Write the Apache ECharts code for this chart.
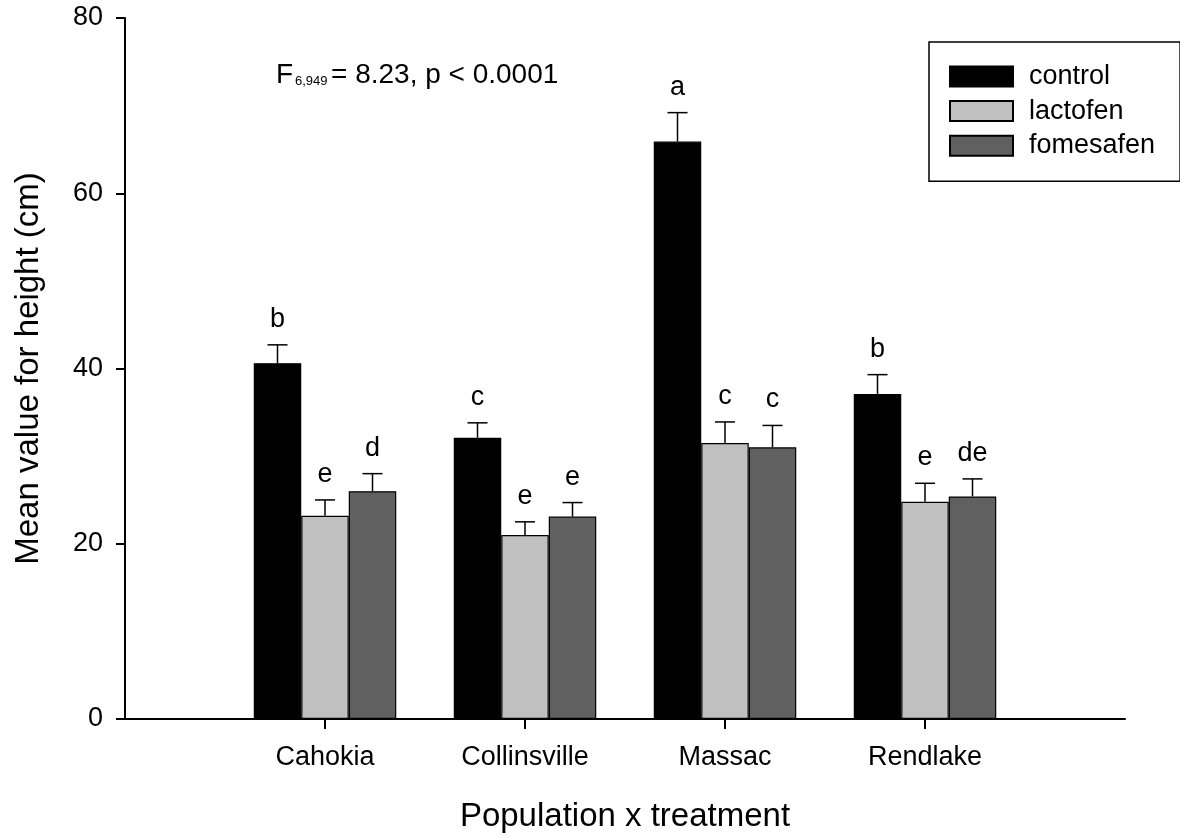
<!DOCTYPE html>
<html><head><meta charset="utf-8">
<script src="https://cdn.jsdelivr.net/npm/echarts@6/dist/echarts.min.js"></script>
<style>html,body{margin:0;padding:0;background:#fff}#c{width:1180px;height:838px}</style>
</head><body><div id="c"></div>
<script>
// ---- data ----
const populations = ['Cahokia', 'Collinsville', 'Massac', 'Rendlake'];
const treatments = ['control', 'lactofen', 'fomesafen'];
const controlMean = [40.6, 32.1, 65.9, 37.1];
const controlSE = [2.1, 1.7, 3.3, 2.2];
const lactofenMean = [23.2, 21.0, 31.5, 24.8];
const lactofenSE = [1.8, 1.5, 2.4, 2.1];
const fomesafenMean = [26.0, 23.1, 31.0, 25.4];
const fomesafenSE = [2.0, 1.6, 2.5, 2.0];
const controlLetters = ['b', 'c', 'a', 'b'];
const lactofenLetters = ['e', 'e', 'c', 'e'];
const fomesafenLetters = ['d', 'e', 'c', 'de'];
const yTicks = [0, 20, 40, 60, 80];
const statText = ['F', '6,949', '= 8.23, p < 0.0001'];

// ---- styling ----
const FONT = '"Liberation Sans", Arial, Helvetica, sans-serif';
const colors = ['#000000', '#c0c0c0', '#606060'];
const BAR_W = 47.5;
const means = [controlMean, lactofenMean, fomesafenMean];
const ses = [controlSE, lactofenSE, fomesafenSE];
const letters = [controlLetters, lactofenLetters, fomesafenLetters];
const cats = [''].concat(populations, ['']);

const chart = echarts.init(document.getElementById('c'), null, {renderer: 'canvas'});

const barSeries = treatments.map((t, s) => ({
  name: t,
  type: 'bar',
  barWidth: BAR_W,
  barGap: '0%',
  itemStyle: {color: colors[s], borderColor: '#000', borderWidth: 1.2},
  emphasis: {disabled: true},
  silent: true,
  z: 2,
  data: means[s].map((v, i) => [i + 1, v])
}));

const errSeries = treatments.map((t, s) => ({
  name: t + ' SE',
  type: 'custom',
  silent: true,
  z: 5,
  encode: {x: 0, y: [1, 2]},
  data: means[s].map((v, i) => [i + 1, v, v + ses[s][i]]),
  renderItem: function (params, api) {
    const cx = api.coord([api.value(0), 0])[0] + (s - 1) * BAR_W;
    const yMean = api.coord([api.value(0), api.value(1)])[1];
    const yTop = api.coord([api.value(0), api.value(2)])[1];
    const half = 10;
    return {
      type: 'group',
      children: [
        {type: 'line', shape: {x1: cx, y1: yMean, x2: cx, y2: yTop}, style: {stroke: '#000', lineWidth: 1.5}},
        {type: 'line', shape: {x1: cx - half, y1: yTop, x2: cx + half, y2: yTop}, style: {stroke: '#000', lineWidth: 1.5}},
        {type: 'text', style: {x: cx, y: yTop - 25.5, text: letters[s][params.dataIndex], fill: '#000',
          font: '27px ' + FONT, textAlign: 'center', textVerticalAlign: 'middle'}}
      ]
    };
  }
}));

chart.setOption({
  animation: false,
  backgroundColor: '#fff',
  textStyle: {fontFamily: FONT},
  grid: {left: 125, right: 55, top: 18, bottom: 117, containLabel: false},
  legend: {
    data: treatments,
    orient: 'vertical',
    left: 929, top: 42,
    padding: [21, 25, 22, 20],
    itemWidth: 63, itemHeight: 20, itemGap: 7.6,
    icon: 'rect',
    borderColor: '#000', borderWidth: 1.5,
    selectedMode: false,
    textStyle: {fontSize: 27, color: '#000', fontFamily: FONT, padding: [0, 0, 0, 11]}
  },
  xAxis: {
    type: 'category',
    data: cats,
    boundaryGap: false,
    name: 'Population x treatment',
    nameLocation: 'middle',
    nameGap: 81,
    nameTextStyle: {fontSize: 33, color: '#000', fontFamily: FONT},
    axisLine: {show: true, lineStyle: {color: '#000', width: 2}},
    axisTick: {show: true, inside: false, length: 10, lineStyle: {color: '#000', width: 2},
      interval: function (i, v) { return v !== ''; }},
    axisLabel: {interval: 0, fontSize: 27, color: '#000', margin: 25, fontFamily: FONT},
    splitLine: {show: false}
  },
  yAxis: {
    type: 'value',
    min: yTicks[0], max: yTicks[yTicks.length - 1], interval: yTicks[1] - yTicks[0],
    name: 'Mean value for height (cm)',
    nameLocation: 'middle',
    nameGap: 80,
    nameTextStyle: {fontSize: 33, color: '#000', fontFamily: FONT},
    axisLine: {show: true, lineStyle: {color: '#000', width: 2}},
    axisTick: {show: true, inside: false, length: 9, lineStyle: {color: '#000', width: 2}},
    axisLabel: {fontSize: 27, color: '#000', margin: 22, fontFamily: FONT},
    splitLine: {show: false}
  },
  graphic: [
    {type: 'text', left: 276, top: 61, silent: true,
      style: {text: statText[0], font: '28px ' + FONT, fill: '#000'}},
    {type: 'text', left: 295, top: 75, silent: true,
      style: {text: statText[1], font: '13px ' + FONT, fill: '#000'}},
    {type: 'text', left: 331, top: 61, silent: true,
      style: {text: statText[2], font: '28px ' + FONT, fill: '#000'}}
  ],
  series: barSeries.concat(errSeries)
});
</script>
</body></html>
